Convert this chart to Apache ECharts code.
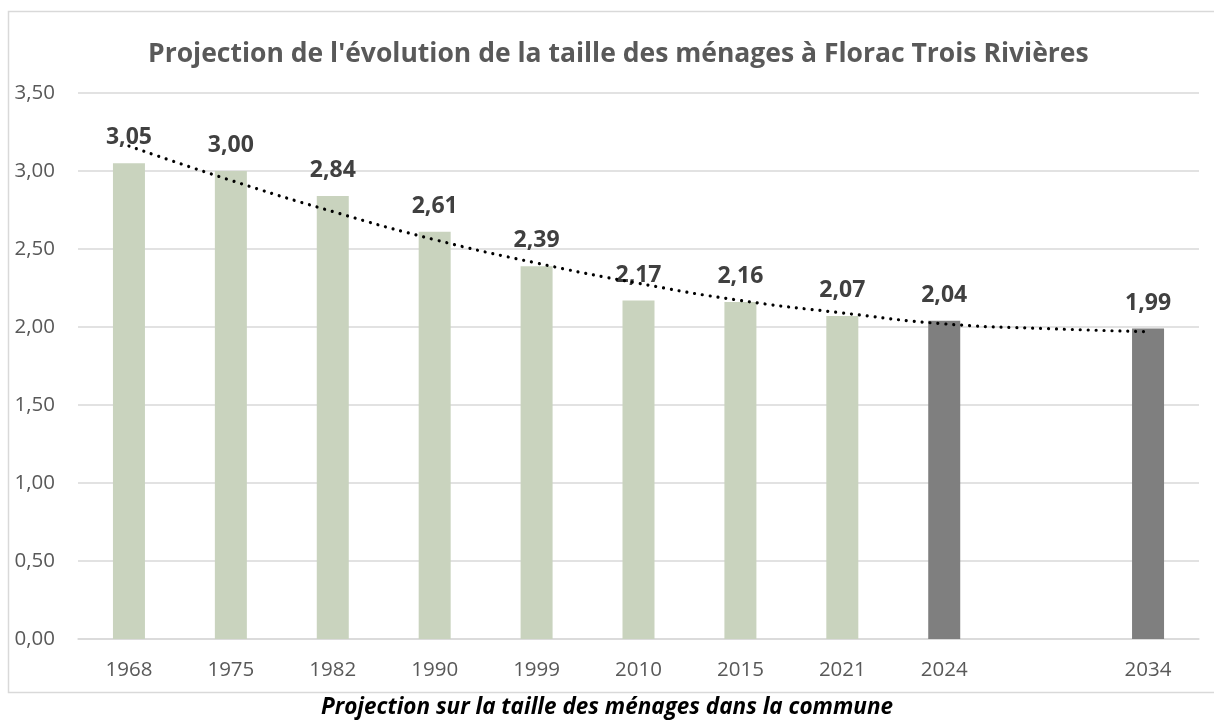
<!DOCTYPE html>
<html>
<head>
<meta charset="utf-8">
<style>
  html, body { margin: 0; padding: 0; background: #ffffff; }
  #chart { width: 1214px; height: 725px; }
</style>
<script src="https://cdn.jsdelivr.net/npm/echarts@6/dist/echarts.min.js"></script>
</head>
<body>
<div id="chart"></div>
<script>
// Census years plus projections; an empty slot keeps the gap before 2034
const years = ['1968', '1975', '1982', '1990', '1999', '2010', '2015', '2021', '2024', '', '2034'];
// Average household size (persons per household)
const householdSize = [3.05, 3.00, 2.84, 2.61, 2.39, 2.17, 2.16, 2.07, 2.04, null, 1.99];
// Which bars are projections (drawn in grey)
const isProjection = [false, false, false, false, false, false, false, false, true, false, true];
// Polynomial trend curve values at each slot
const trendValues = [3.16, 2.94, 2.74, 2.56, 2.41, 2.28, 2.17, 2.09, 2.02, 1.99, 1.97];
// Value axis ticks
const yTicks = [0, 0.5, 1, 1.5, 2, 2.5, 3, 3.5];

const FONT = '"Open Sans", "Noto Sans", sans-serif';
const fr = v => v.toFixed(2).replace('.', ',');

const chart = echarts.init(document.getElementById('chart'), null, { renderer: 'canvas' });

chart.setOption({
  animation: false,
  backgroundColor: '#ffffff',
  title: {
    text: "Projection de l'évolution de la taille des ménages à Florac Trois Rivières",
    left: 143,
    top: 36,
    textStyle: { fontFamily: FONT, fontSize: 26.5, fontWeight: 'bold', color: '#595959' }
  },
  grid: { left: 78, right: 15, top: 93, bottom: 86, containLabel: false },
  xAxis: {
    type: 'category',
    data: years,
    axisLine: { show: true, lineStyle: { color: '#d9d9d9', width: 1.5 } },
    axisTick: { show: false },
    axisLabel: { margin: 21, fontFamily: FONT, fontSize: 20.5, color: '#595959' }
  },
  yAxis: {
    type: 'value',
    min: yTicks[0],
    max: yTicks[yTicks.length - 1],
    interval: 0.5,
    axisLine: { show: false },
    axisTick: { show: false },
    splitLine: { lineStyle: { color: '#d9d9d9', width: 1.5 } },
    axisLabel: { margin: 23, fontFamily: FONT, fontSize: 20.5, color: '#595959', formatter: v => fr(v) }
  },
  series: [
    {
      type: 'bar',
      barWidth: 32,
      z: 2,
      data: householdSize.map((v, i) => ({
        value: v,
        itemStyle: { color: isProjection[i] ? '#7f7f7f' : '#c9d3be' }
      })),
      label: {
        show: true,
        position: 'top',
        distance: 14,
        fontFamily: FONT,
        fontSize: 23,
        fontWeight: 'bold',
        color: '#404040',
        formatter: p => (p.value == null ? '' : fr(p.value))
      }
    },
    {
      type: 'line',
      data: trendValues,
      smooth: true,
      symbol: 'none',
      z: 3,
      silent: true,
      lineStyle: { color: '#000000', width: 3.2, type: [0.01, 7.9], cap: 'round' }
    }
  ],
  graphic: [
    {
      type: 'rect',
      silent: true,
      z: -1,
      shape: { x: 8.5, y: 11.5, width: 1230, height: 681 },
      style: { fill: 'none', stroke: '#d9d9d9', lineWidth: 1.5 }
    },
    {
      type: 'text',
      left: 'center',
      top: 696,
      style: {
        text: 'Projection sur la taille des ménages dans la commune',
        fontFamily: FONT,
        fontSize: 22.5,
        fontWeight: 'bold',
        fontStyle: 'italic',
        fill: '#000000'
      }
    }
  ]
});
</script>
</body>
</html>
